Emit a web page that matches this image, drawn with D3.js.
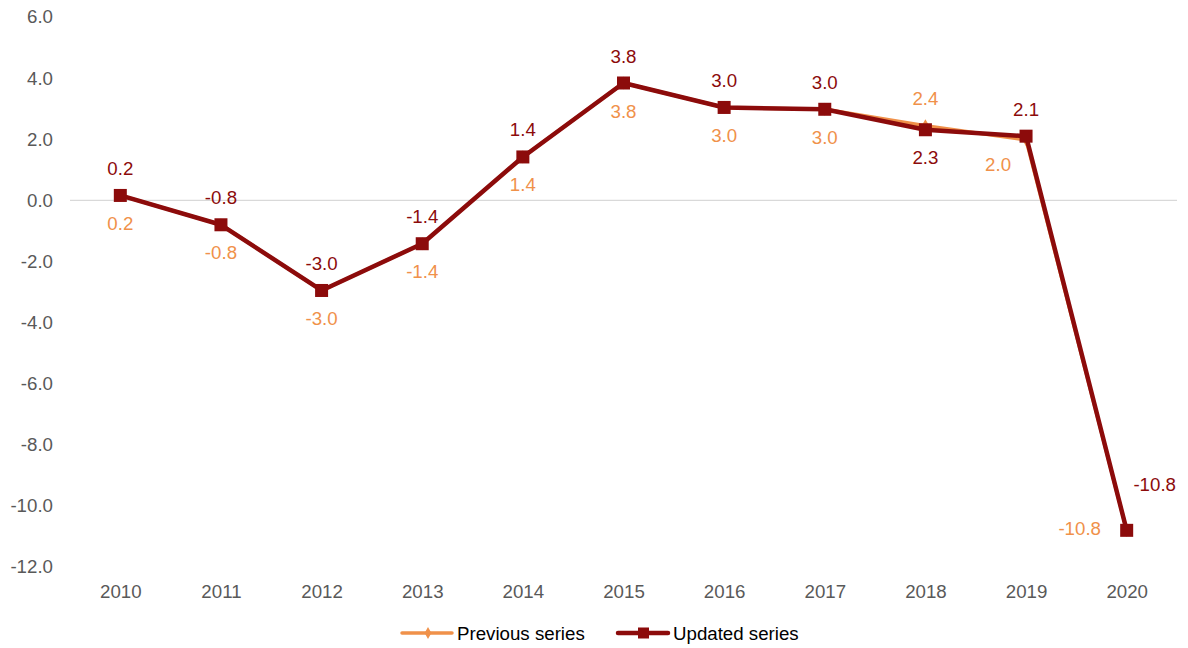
<!DOCTYPE html>
<html lang="en">
  <head>
    <meta charset="UTF-8">
    <script src="https://cdn.jsdelivr.net/npm/d3@7"></script>
    <title>Series comparison</title>
    <style>
      body { margin: 0; background: #fff; }
      text { font-family: "Liberation Sans", Arial, sans-serif; }
    </style>
  </head>
  <body>
    <script>
      let w = 1188;
      let h = 648;
      let fs = 18.7;

      // Data
      let years = ['2010', '2011', '2012', '2013', '2014', '2015', '2016', '2017', '2018', '2019', '2020'];
      let previousSeries = [0.16, -0.8, -2.95, -1.42, 1.42, 3.84, 3.04, 2.98, 2.44, 1.98, -10.8];
      let updatedSeries  = [0.16, -0.8, -2.95, -1.42, 1.42, 3.84, 3.04, 2.98, 2.31, 2.1, -10.8];
      let yTicks = [6, 4, 2, 0, -2, -4, -6, -8, -10, -12];

      let orange = '#f0914a';
      let darkRed = '#8c0b0b';
      let grey = '#595959';

      // hyphen-minus like the original
      let fmt = d => d3.format('.1f')(d).replace('\u2212', '-');

      let xScale = d3.scalePoint()
                      .domain(years)
                      .range([70, 1177])
                      .padding(0.5);
      let yScale = d3.scaleLinear()
                      .domain([-12, 6])
                      .range([567, 17]);

      let svg = d3.select('body')
                  .append('svg')
                  .attr('width', w)
                  .attr('height', h);

      // zero line
      svg.append('line')
          .attr('x1', 70)
          .attr('x2', 1177)
          .attr('y1', yScale(0))
          .attr('y2', yScale(0))
          .attr('stroke', '#d9d9d9')
          .attr('stroke-width', 1.3);

      // y axis labels
      let yAxis = d3.axisLeft(yScale)
                    .tickValues(yTicks)
                    .tickFormat(fmt)
                    .tickSize(0)
                    .tickPadding(0);
      let gy = svg.append('g')
                  .attr('transform', 'translate(53,0)')
                  .call(yAxis);
      gy.select('.domain').remove();
      gy.selectAll('text')
          .attr('font-size', fs)
          .attr('fill', grey)
          .style('font-family', '"Liberation Sans", Arial, sans-serif');

      // x axis labels
      let xAxis = d3.axisBottom(xScale).tickSize(0).tickPadding(0);
      let gx = svg.append('g')
                  .attr('transform', 'translate(0,585)')
                  .call(xAxis);
      gx.select('.domain').remove();
      gx.selectAll('text')
          .attr('font-size', fs)
          .attr('fill', grey)
          .style('font-family', '"Liberation Sans", Arial, sans-serif');

      let line = d3.line()
                    .x((d, i) => xScale(years[i]))
                    .y(d => yScale(d));

      // previous series
      svg.append('path')
          .datum(previousSeries)
          .attr('d', line)
          .attr('fill', 'none')
          .attr('stroke', orange)
          .attr('stroke-width', 3.5)
          .attr('stroke-linejoin', 'round');
      svg.selectAll('.prevMark')
          .data(previousSeries)
          .enter()
          .append('path')
          .attr('class', 'prevMark')
          .attr('d', d3.symbol(d3.symbolDiamond, 50))
          .attr('transform', (d, i) => `translate(${xScale(years[i])},${yScale(d)})`)
          .attr('fill', orange);

      // updated series
      svg.append('path')
          .datum(updatedSeries)
          .attr('d', line)
          .attr('fill', 'none')
          .attr('stroke', darkRed)
          .attr('stroke-width', 4.5)
          .attr('stroke-linejoin', 'round');
      svg.selectAll('.updMark')
          .data(updatedSeries)
          .enter()
          .append('rect')
          .attr('class', 'updMark')
          .attr('x', (d, i) => xScale(years[i]) - 6.5)
          .attr('y', d => yScale(d) - 6.5)
          .attr('width', 13)
          .attr('height', 13)
          .attr('fill', darkRed);

      // label offsets: default updated above, previous below
      function prevOffset(i) {
        if (years[i] === '2018') return [0, -27];
        if (years[i] === '2019') return [-28, 25];
        if (years[i] === '2020') return [-47, -2];
        return [0, 28];
      }
      function updOffset(i) {
        if (years[i] === '2018') return [0, 28];
        if (years[i] === '2020') return [28, -46];
        return [0, -27];
      }

      svg.selectAll('.prevLabel')
          .data(previousSeries)
          .enter()
          .append('text')
          .attr('class', 'prevLabel')
          .text(fmt)
          .attr('x', (d, i) => xScale(years[i]) + prevOffset(i)[0])
          .attr('y', (d, i) => yScale(d) + prevOffset(i)[1])
          .attr('dy', '0.35em')
          .attr('text-anchor', 'middle')
          .attr('font-size', fs)
          .attr('fill', orange);

      svg.selectAll('.updLabel')
          .data(updatedSeries)
          .enter()
          .append('text')
          .attr('class', 'updLabel')
          .text(fmt)
          .attr('x', (d, i) => xScale(years[i]) + updOffset(i)[0])
          .attr('y', (d, i) => yScale(d) + updOffset(i)[1])
          .attr('dy', '0.35em')
          .attr('text-anchor', 'middle')
          .attr('font-size', fs)
          .attr('fill', darkRed);

      // legend
      let legend = [
        {name: 'Previous series', color: orange, x: 402, marker: 'diamond', width: 3.5},
        {name: 'Updated series', color: darkRed, x: 618, marker: 'square', width: 4.5}
      ];
      let lg = svg.selectAll('.legend')
                  .data(legend)
                  .enter()
                  .append('g')
                  .attr('transform', d => `translate(${d.x},633)`);
      lg.append('line')
          .attr('x1', 0)
          .attr('x2', 50)
          .attr('stroke', d => d.color)
          .attr('stroke-width', d => d.width)
          .attr('stroke-linecap', 'round');
      lg.filter(d => d.marker === 'diamond')
          .append('path')
          .attr('d', d3.symbol(d3.symbolDiamond, 40))
          .attr('transform', 'translate(26,0)')
          .attr('fill', d => d.color);
      lg.filter(d => d.marker === 'square')
          .append('rect')
          .attr('x', 20)
          .attr('y', -5.5)
          .attr('width', 11)
          .attr('height', 11)
          .attr('fill', d => d.color);
      lg.append('text')
          .text(d => d.name)
          .attr('x', 55)
          .attr('dy', '0.35em')
          .attr('font-size', fs)
          .attr('fill', '#000');
    </script>
  </body>
</html>
